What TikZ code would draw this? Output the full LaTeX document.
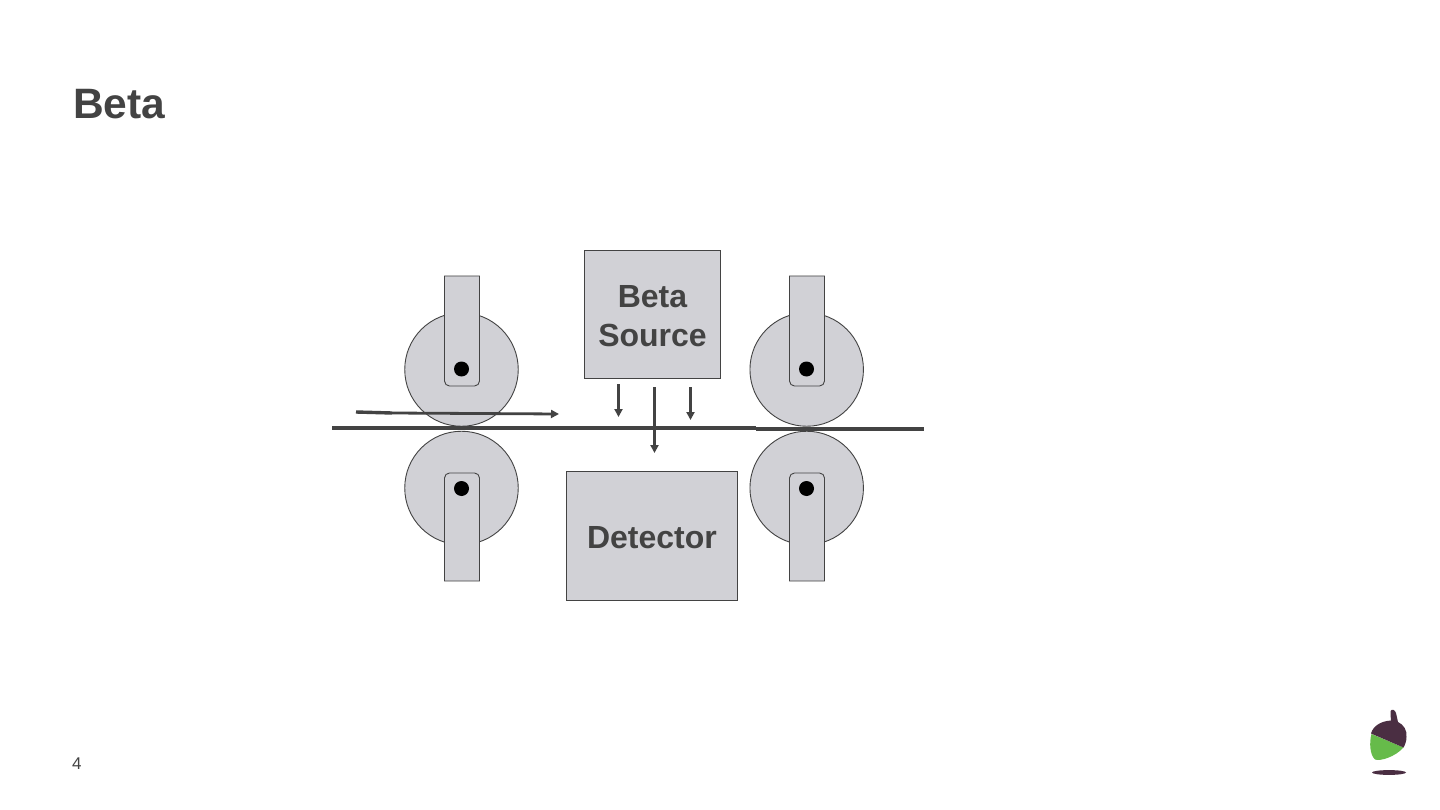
\documentclass[tikz,border=0pt]{standalone}
\usepackage{fontspec}
\setmainfont{Liberation Sans}
\usetikzlibrary{arrows.meta}
\definecolor{ink}{HTML}{434343}
\definecolor{fillg}{HTML}{D1D1D6}
\definecolor{capc}{HTML}{4A2E42}
\definecolor{nut}{HTML}{66BB4A}
\newcommand{\lowered}[1]{\raisebox{-1.5pt}[\height][\depth]{#1}}
\tikzset{
  part/.style={draw=ink,fill=fillg,line width=0.9pt},
  roller/.style={part,circle,minimum size=113.5pt,inner sep=0pt,outer sep=0pt},
  pin/.style={fill=black,draw=none,circle,minimum size=15pt,inner sep=0pt},
  box/.style={part,inner sep=0pt,outer sep=0pt,align=center,text=ink,font=\bfseries\fontsize{32}{39}\selectfont},
  sheet/.style={draw=ink,line width=3.8pt},
  ray/.style={draw=ink,line width=2.8pt,-{Triangle[length=8pt,width=8pt]}},
}
\begin{document}
\begin{tikzpicture}[x=1pt,y=-1pt]
\useasboundingbox (0,0) rectangle (1440,810);
\fill[white] (0,0) rectangle (1440,810);
\node[anchor=west,text=ink,font=\bfseries\fontsize{42.5}{48}\selectfont,inner sep=0pt] (title) at (73,104) {Beta};
\node[anchor=west,text=ink,font=\fontsize{17}{19}\selectfont,inner sep=0pt] (page) at (72,764) {4};
% rollers
\node[roller] (r1) at (461.5,369.5) {};
\node[roller] (r2) at (461.5,488) {};
\node[roller] (r3) at (806.7,369.5) {};
\node[roller] (r4) at (806.7,488) {};
% forks
\draw[part] (444.5,276) -- (479.5,276) [rounded corners=5pt] -- (479.5,386) -- (444.5,386) [sharp corners] -- cycle;
\draw[part] (444.5,581) -- (479.5,581) [rounded corners=5pt] -- (479.5,473) -- (444.5,473) [sharp corners] -- cycle;
\draw[part] (789.5,276) -- (824.5,276) [rounded corners=5pt] -- (824.5,386) -- (789.5,386) [sharp corners] -- cycle;
\draw[part] (789.5,581) -- (824.5,581) [rounded corners=5pt] -- (824.5,473) -- (789.5,473) [sharp corners] -- cycle;
\node[pin] (p1) at (461.5,369) {};
\node[pin] (p2) at (461.5,488.5) {};
\node[pin] (p3) at (806.5,369) {};
\node[pin] (p4) at (806.5,488.5) {};
% boxes
\node[box,minimum width=136pt,minimum height=128pt] (src) at (652.5,314.5) {\lowered{Beta}\\\lowered{Source}};
\node[box,minimum width=171pt,minimum height=129pt] (det) at (652,536) {\lowered{Detector}};
% sheet
\coordinate (s0) at (332,428);
\coordinate (s1) at (756,428);
\coordinate (s2) at (756,429);
\coordinate (s3) at (924,429);
\draw[sheet] (s0) -- (s1);
\draw[sheet] (s2) -- (s3);
% direction arrow
\coordinate (d0) at (356,412);
\coordinate (d1) at (392,413);
\coordinate (d2) at (559,414);
\draw[draw=ink,line width=3.4pt] (d0) -- (d1);
\draw[ray] (d1) -- (d2);
% rays
\coordinate (a0) at (618.5,384);
\coordinate (a1) at (618.5,417);
\coordinate (b0) at (654.5,387);
\coordinate (b1) at (654.5,453);
\coordinate (c0) at (690.5,387);
\coordinate (c1) at (690.5,420);
\draw[ray] (a0) -- (a1);
\draw[ray] (b0) -- (b1);
\draw[ray] (c0) -- (c1);
% acorn
\fill[nut] (1371.5,734) .. controls (1369,743) and (1370,755) .. (1375,759.5)
  .. controls (1380,761.5) and (1395,757) .. (1403.5,747.5) -- cycle;
\fill[capc] (1371,733.5) .. controls (1373,726) and (1381,721) .. (1391,720.5)
  .. controls (1391,717) and (1390,714) .. (1390.5,711)
  .. controls (1392,708.5) and (1395,710) .. (1396,713)
  .. controls (1397,716) and (1397,719) .. (1398,722)
  .. controls (1404,725) and (1407,730) .. (1406.5,737)
  .. controls (1406.5,741) and (1405,745) .. (1403.5,747.5) -- cycle;
\fill[capc] (1389,772.5) ellipse [x radius=17,y radius=2.4];
\end{tikzpicture}
\end{document}
